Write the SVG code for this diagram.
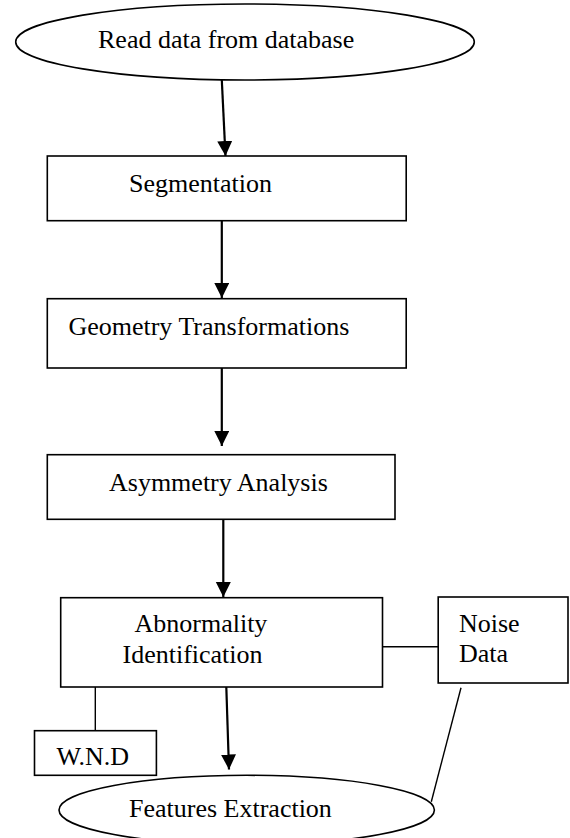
<svg xmlns="http://www.w3.org/2000/svg" width="570" height="838" viewBox="0 0 570 838">
<style>
  .shape { fill: #ffffff; stroke: #000000; stroke-width: 1.6; }
  .thin { fill: none; stroke: #000000; stroke-width: 1.4; }
  .arrow { fill: none; stroke: #000000; stroke-width: 2.2; marker-end: url(#head); }
  text { font-family: "Liberation Serif", "Times New Roman", serif; font-size: 26px; fill: #000000; }
</style>
<defs>
  <marker id="head" markerUnits="userSpaceOnUse" markerWidth="16" markerHeight="16" refX="15" refY="7.5" orient="auto">
    <path d="M0,0 L15,7.5 L0,15 Z" fill="#000000"/>
  </marker>
</defs>
<rect width="570" height="838" fill="#ffffff"/>
<g id="connectors">
  <line class="arrow" x1="221.8" y1="80" x2="225.5" y2="156"/>
  <line class="arrow" x1="221.8" y1="220.7" x2="221.8" y2="298"/>
  <line class="arrow" x1="221.8" y1="368" x2="221.8" y2="446"/>
  <line class="arrow" x1="223.3" y1="519.3" x2="223.3" y2="597"/>
  <line class="arrow" x1="226.2" y1="683.7" x2="229" y2="769.5"/>
  <line class="thin" x1="380" y1="646.7" x2="438.2" y2="646.7"/>
  <line class="thin" x1="95.3" y1="687" x2="95.3" y2="730.7"/>
  <line class="thin" x1="461" y1="687.7" x2="431.3" y2="801.7"/>
</g>
<g id="read-data">
  <ellipse class="shape" cx="245" cy="42" rx="229.3" ry="38"/>
  <text x="98" y="48.3">Read data from database</text>
</g>
<g id="segmentation">
  <rect class="shape" x="47.3" y="156" width="358.9" height="64.7"/>
  <text x="129" y="191.7">Segmentation</text>
</g>
<g id="geometry">
  <rect class="shape" x="47.3" y="298.7" width="358.9" height="69.3"/>
  <text x="68.4" y="335">Geometry Transformations</text>
</g>
<g id="asymmetry">
  <rect class="shape" x="47.3" y="454.7" width="347.7" height="64.6"/>
  <text x="109" y="490.7">Asymmetry Analysis</text>
</g>
<g id="abnormality">
  <rect class="shape" x="60.7" y="597.7" width="321.8" height="89.3"/>
  <text x="134.5" y="632.3">Abnormality</text>
  <text x="122.5" y="663.3">Identification</text>
</g>
<g id="noise-data">
  <rect class="shape" x="438.2" y="597" width="129.8" height="86"/>
  <text x="459" y="631.7">Noise</text>
  <text x="459" y="662.3">Data</text>
</g>
<g id="wnd">
  <rect class="shape" x="34.5" y="730.7" width="121.9" height="44.6"/>
  <text x="56.4" y="765">W.N.D</text>
</g>
<g id="features">
  <ellipse class="shape" cx="246.7" cy="810" rx="187.7" ry="34.7"/>
  <text x="129" y="817.3">Features Extraction</text>
</g>
</svg>
